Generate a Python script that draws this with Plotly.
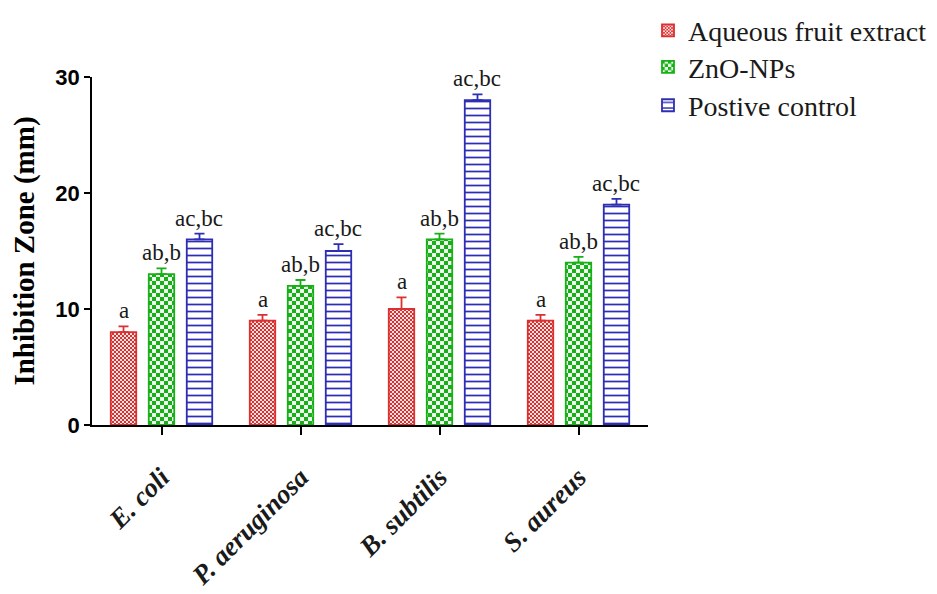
import plotly.graph_objects as go

categories = ["E. coli", "P. aeruginosa", "B. subtilis", "S. aureus"]
series_names = ["Aqueous fruit extract", "ZnO-NPs", "Postive control"]
aqueous = [8.0, 9.0, 10.0, 9.0]
zno = [13.0, 12.0, 16.0, 14.0]
positive = [16.0, 15.0, 28.0, 19.0]
aqueous_err = [0.5, 0.5, 1.0, 0.5]
zno_err = [0.5, 0.5, 0.5, 0.5]
positive_err = [0.5, 0.6, 0.5, 0.5]
aqueous_lbl = ["a", "a", "a", "a"]
zno_lbl = ["ab,b", "ab,b", "ab,b", "ab,b"]
positive_lbl = ["ac,bc", "ac,bc", "ac,bc", "ac,bc"]
y_ticks = [0, 10, 20, 30]

SERIF = "Times New Roman, Liberation Serif, serif"
SANS = "Arial, Liberation Sans, sans-serif"

def checker(n):
    h = n / 2
    return f"M0,0H{h}V{h}H0ZM{h},{h}H{n}V{n}H{h}Z"

styles = [
    dict(color="#dc2f2f", bg="#fbe2e2", path=checker(4), size=4),
    dict(color="#17b017", bg="#f0fcf0", path=checker(8), size=8),
    dict(color="#2e2eb5", bg="white", shape="-", size=7, solidity=0.25),
]
values = [aqueous, zno, positive]
errors = [aqueous_err, zno_err, positive_err]
labels = [aqueous_lbl, zno_lbl, positive_lbl]
legend_ids = ["legend", "legend2", "legend3"]

fig = go.Figure()
for k in range(3):
    st = styles[k]
    pat = dict(size=st["size"], fgcolor=st["color"], bgcolor=st["bg"], fillmode="replace")
    if "path" in st:
        pat["path"] = st["path"]
    else:
        pat["shape"] = st["shape"]
        pat["solidity"] = st["solidity"]
    fig.add_trace(go.Bar(
        name=series_names[k], x=categories, y=values[k],
        legend=legend_ids[k],
        marker=dict(color="white", line=dict(color=st["color"], width=1.8), pattern=pat),
        error_y=dict(type="data", array=errors[k], arrayminus=[0]*len(errors[k]),
                     color=st["color"], thickness=1.8, width=5),
    ))

bargap = 0.18
slot = (1 - bargap) / 3
for k in range(3):
    for i, c in enumerate(categories):
        fig.add_annotation(x=i + (k - 1) * slot, y=values[k][i] + errors[k][i], xref="x", yref="y",
                           text=labels[k][i], showarrow=False, yanchor="bottom", yshift=1,
                           font=dict(family=SERIF, size=23, color="#1a1a1a"))

legend_font = dict(family=SERIF, size=28, color="#1a1a1a")
leg_common = dict(x=1.0, xanchor="left", yanchor="middle", font=legend_font,
                  bgcolor="rgba(0,0,0,0)", borderwidth=0)

fig.update_layout(
    width=937, height=594,
    margin=dict(l=84, r=297, t=69, b=177, autoexpand=False),
    paper_bgcolor="white", plot_bgcolor="white",
    barmode="group", bargap=bargap, bargroupgap=0.33,
    showlegend=True,
    legend=dict(y=1.133, **leg_common),
    legend2=dict(y=1.028, **leg_common),
    legend3=dict(y=0.918, **leg_common),
    xaxis=dict(range=[-0.5, 3.5], showline=True, linecolor="black", linewidth=1.5,
               ticks="outside", ticklen=8, tickwidth=1.5, tickcolor="black",
               tickangle=-45, showgrid=False, zeroline=False, ticklabelstandoff=16,
               tickfont=dict(family=SERIF, size=27, color="#1a1a1a", style="italic", weight="bold")),
    yaxis=dict(range=[0, 30], tickvals=y_ticks, showline=True, linecolor="black", linewidth=1.5,
               ticks="outside", ticklen=6, tickwidth=1.5, tickcolor="black",
               showgrid=False, zeroline=False,
               tickfont=dict(family=SANS, size=22, color="black", weight="bold"),
               title=dict(text="Inhibition Zone (mm)", standoff=14,
                          font=dict(family=SERIF, size=29, color="black", weight="bold"))),
)

fig.write_html("out.html")
